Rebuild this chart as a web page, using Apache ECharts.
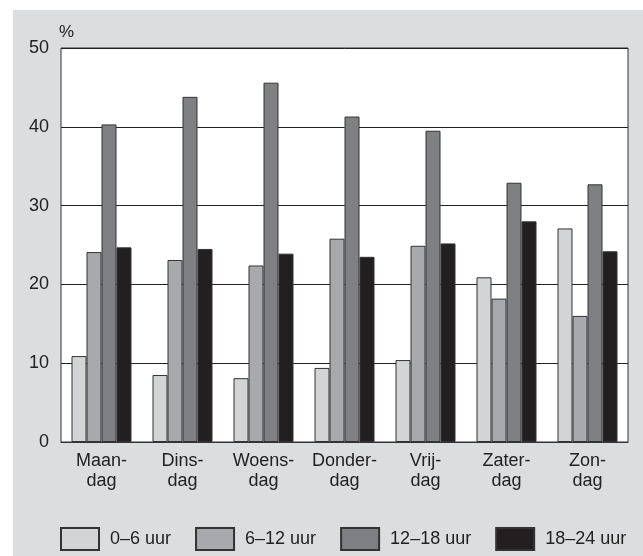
<!DOCTYPE html>
<html>
<head>
<meta charset="utf-8">
<script src="https://cdn.jsdelivr.net/npm/echarts@6/dist/echarts.min.js"></script>
<style>
  html, body { margin: 0; padding: 0; background: #ffffff; }
  #chart { width: 643px; height: 556px; }
</style>
</head>
<body>
<div id="chart"></div>
<script>
// Weekdays (two-line labels) and share of each time slot, in percent
const days = ['Maan-\ndag', 'Dins-\ndag', 'Woens-\ndag', 'Donder-\ndag', 'Vrij-\ndag', 'Zater-\ndag', 'Zon-\ndag'];
const slotNames = ['0–6 uur', '6–12 uur', '12–18 uur', '18–24 uur'];
const night     = [10.9, 8.5, 8.1, 9.4, 10.4, 20.9, 27.1];
const morning   = [24.1, 23.1, 22.4, 25.8, 24.9, 18.2, 16.0];
const afternoon = [40.3, 43.8, 45.6, 41.3, 39.5, 32.9, 32.7];
const evening   = [24.7, 24.5, 23.9, 23.5, 25.2, 28.0, 24.2];
const yTicks = [0, 10, 20, 30, 40, 50];

const slotColors = ['#d3d4d6', '#a8a9ac', '#7f8084', '#231f20'];
const slotValues = [night, morning, afternoon, evening];

const chart = echarts.init(document.getElementById('chart'), null, { renderer: 'canvas' });

const series = slotNames.map((name, i) => ({
  name: name,
  type: 'bar',
  data: slotValues[i],
  barWidth: 15,
  barGap: '0%',
  itemStyle: { color: slotColors[i], borderColor: '#333333', borderWidth: 1 },
  emphasis: { disabled: true }
}));

chart.setOption({
  animation: false,
  backgroundColor: '#ffffff',
  textStyle: { fontFamily: '"Liberation Sans", Arial, sans-serif' },
  graphic: [
    {
      type: 'rect',
      z: -10,
      shape: { x: 13, y: 10, width: 630, height: 546 },
      style: { fill: '#dcdddf' },
      silent: true
    },
    {
      type: 'text',
      left: 59,
      top: 24,
      style: { text: '%', fontSize: 17, fill: '#222222', fontFamily: '"Liberation Sans", Arial, sans-serif' }
    }
  ],
  grid: {
    left: 61, right: 15, top: 48, bottom: 114,
    show: true,
    backgroundColor: '#ffffff',
    borderColor: '#333333',
    borderWidth: 1
  },
  legend: {
    data: slotNames,
    left: 60,
    top: 527,
    padding: 0,
    icon: 'rect',
    itemWidth: 38,
    itemHeight: 22,
    itemGap: 24,
    textStyle: { fontSize: 18, color: '#222222', padding: [0, 0, 0, 6] }
  },
  xAxis: {
    type: 'category',
    data: days,
    axisLine: { show: true, lineStyle: { color: '#333333', width: 1 } },
    axisTick: { show: false },
    axisLabel: { interval: 0, hideOverlap: false, fontSize: 18, color: '#222222', lineHeight: 20, margin: 9 }
  },
  yAxis: {
    type: 'value',
    min: yTicks[0],
    max: yTicks[yTicks.length - 1],
    interval: yTicks[1] - yTicks[0],
    axisLine: { show: false },
    axisTick: { show: false },
    axisLabel: { fontSize: 18, color: '#222222', margin: 12 },
    splitLine: { show: true, lineStyle: { color: '#222222', width: 1 } }
  },
  series: series
});
</script>
</body>
</html>
